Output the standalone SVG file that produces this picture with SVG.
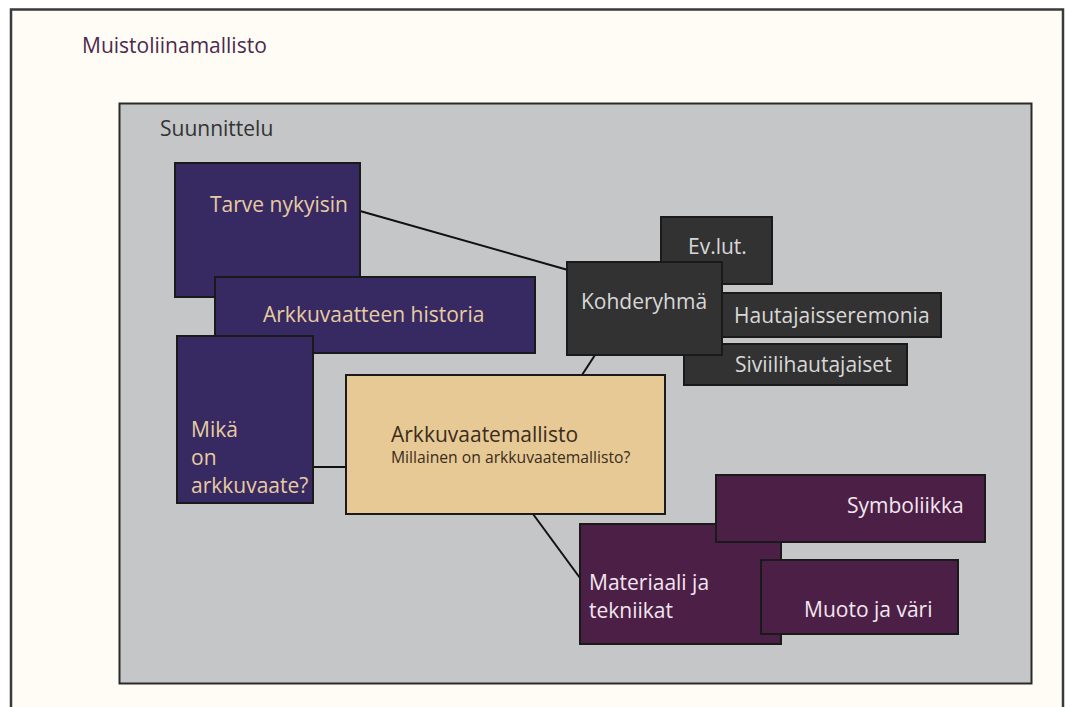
<svg xmlns="http://www.w3.org/2000/svg" width="1065" height="707" viewBox="0 0 1065 707">
<style>
text{font-family:"Open Sans","Noto Sans","Liberation Sans",sans-serif;font-size:21px}
.box{stroke:#1a1a1a;stroke-width:2}
.purple{fill:#372a63}
.dark{fill:#333233}
.tan{fill:#e7c995}
.plum{fill:#4c2046}
.tp{fill:#e8cca0}
.td{fill:#d8d8d8}
.tt{fill:#3a2c1c}
.tm{fill:#f3e6f0}
.conn line{stroke:#111;stroke-width:2}
</style>
<rect x="0" y="0" width="1065" height="707" fill="#ffffff"/>
<rect id="outer" x="11" y="9.5" width="1052" height="720" fill="#fffcf6" stroke="#3a3a3a" stroke-width="2.5"/>
<text x="82" y="53" fill="#4a2b4c">Muistoliinamallisto</text>
<rect id="panel" x="119.5" y="103.5" width="912" height="580" fill="#c5c6c8" stroke="#2a2a2a" stroke-width="2"/>
<text x="160" y="136" fill="#333333">Suunnittelu</text>

<g class="conn" id="connectors">
<line x1="360" y1="211" x2="568" y2="270"/>
<line x1="595" y1="355" x2="582" y2="375"/>
<line x1="313" y1="467" x2="346" y2="467"/>
<line x1="533" y1="514" x2="580" y2="578"/>
</g>

<g id="tarve">
<rect class="box purple" x="175" y="163" width="185" height="134"/>
<text class="tp" x="210" y="212">Tarve nykyisin</text>
</g>
<g id="historia">
<rect class="box purple" x="215" y="277" width="320" height="76"/>
<text class="tp" x="263" y="322">Arkkuvaatteen historia</text>
</g>
<g id="mika">
<rect class="box purple" x="177" y="336" width="136" height="167"/>
<text class="tp" x="191" y="437">Mikä</text>
<text class="tp" x="191" y="465">on</text>
<text class="tp" x="191" y="493">arkkuvaate?</text>
</g>
<g id="arkkuvaatemallisto">
<rect class="box tan" x="346" y="375" width="319" height="139"/>
<text class="tt" x="391" y="442">Arkkuvaatemallisto</text>
<text class="tt" x="391" y="463" style="font-size:15.7px">Millainen on arkkuvaatemallisto?</text>
</g>
<g id="evlut">
<rect class="box dark" x="661" y="217" width="111" height="67"/>
<text class="td" x="688" y="254">Ev.lut.</text>
</g>
<g id="hautajaisseremonia">
<rect class="box dark" x="700" y="293" width="241" height="44"/>
<text class="td" x="734" y="323">Hautajaisseremonia</text>
</g>
<g id="siviilihautajaiset">
<rect class="box dark" x="684" y="344" width="223" height="41"/>
<text class="td" x="735" y="372">Siviilihautajaiset</text>
</g>
<g id="kohderyhma">
<rect class="box dark" x="567" y="262" width="155" height="93"/>
<text class="td" x="581" y="309">Kohderyhmä</text>
</g>
<g id="materiaali">
<rect class="box plum" x="580" y="524" width="201" height="120"/>
<text class="tm" x="589" y="590">Materiaali ja</text>
<text class="tm" x="589" y="618">tekniikat</text>
</g>
<g id="symboliikka">
<rect class="box plum" x="716" y="475" width="269" height="67"/>
<text class="tm" x="847" y="513">Symboliikka</text>
</g>
<g id="muoto">
<rect class="box plum" x="761" y="560" width="197" height="74"/>
<text class="tm" x="804" y="617">Muoto ja väri</text>
</g>
</svg>
